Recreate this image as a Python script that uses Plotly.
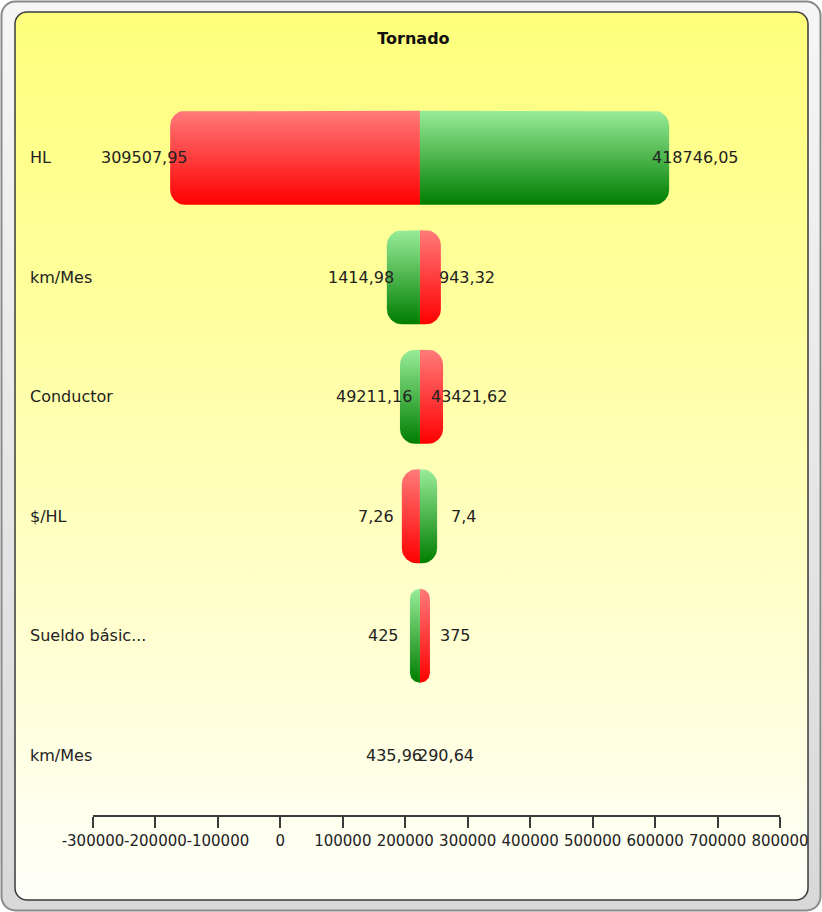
import base64
import numpy as np
import plotly.graph_objects as go

# ---- data -------------------------------------------------------------
variables = ["HL", "km/Mes", "Conductor", "$/HL", "Sueldo básic...", "km/Mes"]
input_low = [309507.95, 943.32, 43421.62, 7.26, 375, 290.64]
input_high = [418746.05, 1414.98, 49211.16, 7.4, 425, 435.96]
# model output when the variable sits at its low / high input value
output_at_low = [-176500, 257000, 260500, 194500, 239500, 223500]
output_at_high = [622500, 170500, 191500, 251000, 207500, 223500]
base_output = 223500

x_ticks = list(range(-300000, 800001, 100000))
x_tick_text = [str(v) for v in x_ticks]

# ---- geometry of the figure ------------------------------------------
W, H = 822, 912
ML, MR, MT, MB = 93, 42, 98, 97
XMIN, XMAX = -300000, 800000
PLOT_W, PLOT_H = W - ML - MR, H - MT - MB
PX_X = PLOT_W / (XMAX - XMIN)          # pixels per x unit
PX_Y = PLOT_H / len(variables)         # pixels per category row
BAR_H = 0.787                           # bar thickness in row units
RADIUS = 15                             # corner radius in pixels

RED = [[0, "#ff0000"], [1, "#ff7a7a"]]
GREEN = [[0, "#007d00"], [1, "#98ec98"]]
FONT = "DejaVu Sans"
TXT = "#222222"


def fmt(v):
    s = ("%.2f" % v).rstrip("0").rstrip(".")
    return s.replace(".", ",")


def half_bar(start, end, yc):
    """Outline of one half of a tornado bar, rounded at its outer end."""
    w_px = abs(end - start) * PX_X
    if w_px < 0.5:
        return None, None
    d = 1 if end > start else -1
    r = min(RADIUS, w_px, BAR_H * PX_Y / 2)
    rx, ry = r / PX_X, r / PX_Y
    y0, y1 = yc - BAR_H / 2, yc + BAR_H / 2
    t = np.linspace(0, np.pi / 2, 12)
    cx = end - d * rx
    xs = [start]
    ys = [y0]
    xs += list(cx + d * rx * np.sin(t))
    ys += list(y0 + ry - ry * np.cos(t))
    xs += list(cx + d * rx * np.cos(t))
    ys += list(y1 - ry + ry * np.sin(t))
    xs += [start, start]
    ys += [y1, y0]
    return xs, ys


fig = go.Figure()
annotations = []

for i, name in enumerate(variables):
    lo, hi = output_at_low[i], output_at_high[i]
    for val, scale in ((lo, RED), (hi, GREEN)):
        xs, ys = half_bar(base_output, val, i)
        if xs is None:
            continue
        fig.add_trace(go.Scatter(
            x=xs, y=ys, mode="lines", fill="toself",
            line=dict(width=0, color="rgba(0,0,0,0)"),
            fillgradient=dict(type="vertical", colorscale=scale),
            hoverinfo="skip", showlegend=False,
        ))

    # value labels at both ends of the bar
    if lo < hi:
        left_x, left_t, right_x, right_t = lo, input_low[i], hi, input_high[i]
    else:
        left_x, left_t, right_x, right_t = hi, input_high[i], lo, input_low[i]
    annotations.append(dict(x=left_x, y=i, xref="x", yref="y", text=fmt(left_t),
                            showarrow=False, xanchor="center", xshift=-26,
                            font=dict(family=FONT, size=16, color=TXT)))
    annotations.append(dict(x=right_x, y=i, xref="x", yref="y", text=fmt(right_t),
                            showarrow=False, xanchor="center", xshift=26,
                            font=dict(family=FONT, size=16, color=TXT)))
    # category name on the left
    annotations.append(dict(x=(28 - ML) / PLOT_W, y=i, xref="paper", yref="y",
                            text=name, showarrow=False, xanchor="left",
                            font=dict(family=FONT, size=16, color=TXT)))

# framed panel with a yellow-to-white wash behind the chart
svg = f'''<svg xmlns="http://www.w3.org/2000/svg" width="{W}" height="{H}" viewBox="0 0 {W} {H}">
<defs>
<linearGradient id="frame" x1="0" y1="0" x2="0" y2="1">
<stop offset="0" stop-color="#f6f6f6"/><stop offset="1" stop-color="#d8d8d8"/></linearGradient>
<linearGradient id="panel" x1="0" y1="0" x2="0" y2="1">
<stop offset="0" stop-color="#ffff7c"/><stop offset="0.35" stop-color="#ffffa0"/>
<stop offset="1" stop-color="#fffffb"/></linearGradient>
</defs>
<rect x="1.5" y="1.5" width="{W-3}" height="{H-3}" rx="14" fill="url(#frame)" stroke="#8a8a8a" stroke-width="2"/>
<rect x="15" y="12" width="793" height="888" rx="12" fill="url(#panel)" stroke="#3a3a3a" stroke-width="1.5"/>
</svg>'''
bg_src = "data:image/svg+xml;base64," + base64.b64encode(svg.encode()).decode()

fig.update_layout(
    width=W, height=H,
    margin=dict(l=ML, r=MR, t=MT, b=MB, pad=0),
    paper_bgcolor="white",
    plot_bgcolor="rgba(0,0,0,0)",
    title=dict(text="Tornado", x=0.503, xanchor="center", y=1 - 38 / H, yanchor="middle",
               font=dict(family=FONT, size=16, color="#111111", weight="bold")),
    xaxis=dict(range=[XMIN - 1, XMAX + 1], tickvals=x_ticks, ticktext=x_tick_text,
               tickangle=0,
               showgrid=False, zeroline=False, showline=True, linecolor="#3a3a3a",
               linewidth=1.5, ticks="outside", ticklen=11, tickwidth=1.5,
               tickcolor="#3a3a3a", tickfont=dict(family=FONT, size=15, color=TXT),
               fixedrange=True),
    yaxis=dict(range=[len(variables) - 0.5, -0.5], showgrid=False, zeroline=False,
               showline=False, showticklabels=False, ticks="", fixedrange=True),
    annotations=annotations,
    images=[dict(source=bg_src, xref="paper", yref="paper",
                 x=-ML / PLOT_W, y=1 + MT / PLOT_H, sizex=W / PLOT_W, sizey=H / PLOT_H,
                 xanchor="left", yanchor="top", sizing="stretch", layer="below")],
)

fig.write_html("out.html")
